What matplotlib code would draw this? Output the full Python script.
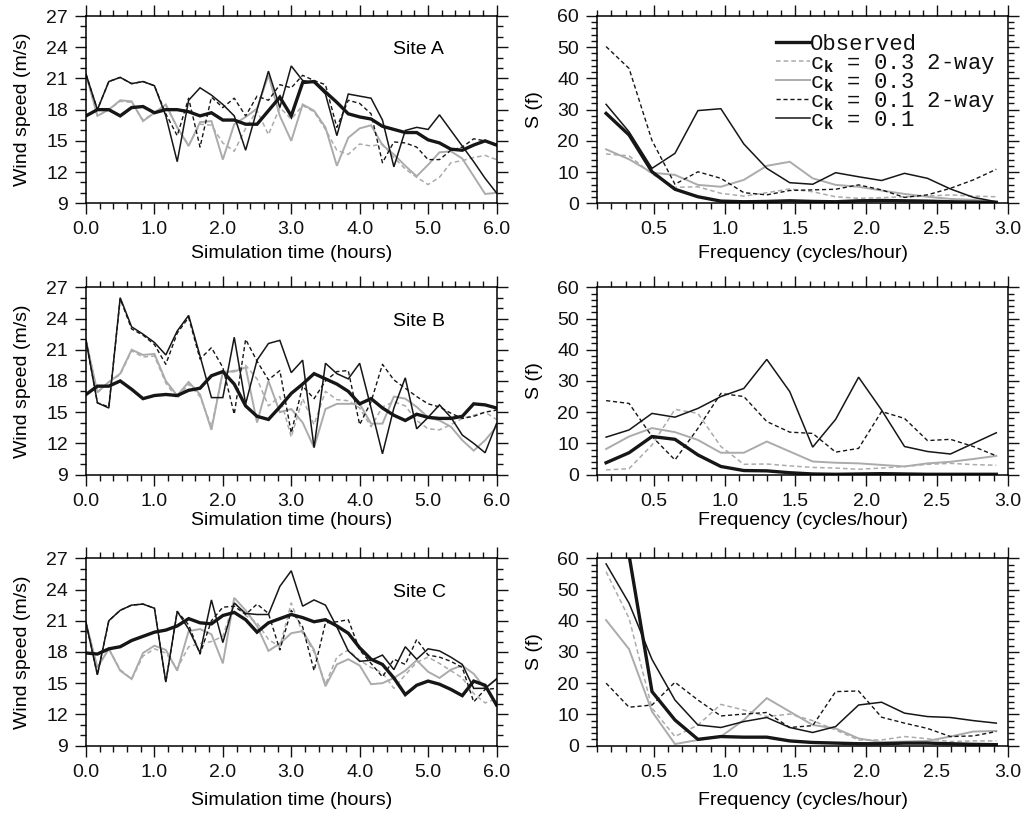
import numpy as np
import matplotlib
matplotlib.use('Agg')
import matplotlib.pyplot as plt
from matplotlib.ticker import MultipleLocator, FormatStrFormatter

plt.rcParams['font.family'] = ['Liberation Sans', 'DejaVu Sans']
plt.rcParams['mathtext.fontset'] = 'custom'
plt.rcParams['mathtext.rm'] = 'Liberation Mono'
plt.rcParams['mathtext.bf'] = 'Liberation Mono:bold'

# ---------------- data ----------------
hours = np.arange(37) / 6.0                 # 10-min samples over 6 h
freq = np.arange(1, 19) * 6.0 / 37.0        # spectral frequencies (cycles/hour)

site_names = ['Site A', 'Site B', 'Site C']
series_labels = ['Observed',
                 r'c$_\mathbf{k}$ = 0.3 2-way',
                 r'c$_\mathbf{k}$ = 0.3',
                 r'c$_\mathbf{k}$ = 0.1 2-way',
                 r'c$_\mathbf{k}$ = 0.1']

# Site A wind speed (m/s)
a_obs = [17.4, 18.0, 18.0, 17.4, 18.2, 18.3, 17.7, 18.0, 18.0, 17.8, 17.4, 17.7, 17.0,
         17.0, 16.6, 16.6, 17.9, 19.2, 17.4, 20.6, 20.7, 19.7, 18.7, 17.6, 17.3, 17.1,
         16.4, 16.1, 15.8, 15.8, 15.1, 14.8, 14.2, 14.1, 14.6, 15.0, 14.6]
a_c03w = [21.4, 17.4, 18.0, 18.8, 18.7, 17.0, 17.7, 18.4, 16.3, 14.6, 16.6, 16.5, 14.8,
          14.0, 16.2, 17.9, 15.6, 18.2, 17.1, 18.4, 17.8, 16.1, 14.1, 13.7, 14.7, 14.5,
          14.7, 13.4, 12.3, 11.5, 10.8, 11.5, 12.9, 13.1, 13.4, 13.6, 13.2]
a_c03 = [21.4, 17.4, 18.0, 18.9, 18.8, 16.9, 17.7, 18.5, 16.3, 14.5, 16.8, 16.9, 13.2,
         16.6, 17.3, 18.1, 21.3, 17.4, 15.0, 18.5, 17.9, 16.3, 12.6, 15.3, 16.2, 16.5,
         14.6, 13.7, 12.6, 11.6, 12.7, 13.9, 14.0, 13.3, 11.6, 9.9, 10.0]
a_c01w = [21.4, 18.0, 20.7, 21.1, 20.5, 20.7, 20.3, 17.6, 15.5, 19.1, 14.4, 19.2, 18.2,
          19.1, 17.4, 19.3, 18.9, 20.4, 20.1, 21.3, 20.8, 20.4, 16.3, 18.9, 18.6, 17.6,
          12.9, 14.9, 14.8, 14.4, 13.2, 13.2, 14.1, 14.4, 15.2, 15.0, 14.5]
a_c01 = [21.4, 18.0, 20.7, 21.1, 20.5, 20.7, 20.3, 17.4, 13.0, 18.9, 20.1, 19.4, 18.5,
         17.4, 14.1, 18.0, 21.7, 18.2, 22.2, 20.8, 20.6, 19.5, 15.5, 19.5, 19.3, 19.1,
         17.0, 12.5, 16.0, 16.3, 16.1, 17.5, 16.0, 14.5, 13.0, 11.4, 10.0]

# Site B wind speed (m/s)
b_obs = [16.7, 17.5, 17.5, 18.0, 17.2, 16.3, 16.6, 16.7, 16.6, 17.1, 17.3, 18.5, 18.9,
         17.7, 15.6, 14.6, 14.3, 15.5, 16.8, 17.7, 18.7, 18.2, 17.7, 17.0, 15.8, 16.3,
         15.4, 14.7, 14.2, 14.8, 14.5, 14.4, 14.4, 14.6, 15.8, 15.7, 15.4]
b_c03w = [21.9, 16.9, 17.9, 18.6, 20.9, 20.3, 20.4, 17.8, 16.3, 17.7, 16.5, 13.6, 18.8,
          19.0, 19.5, 18.2, 15.6, 16.5, 12.6, 16.3, 13.8, 17.0, 16.2, 16.1, 15.4, 13.6,
          15.5, 16.0, 15.6, 14.2, 13.4, 13.3, 13.8, 14.4, 14.7, 15.0, 14.3]
b_c03 = [21.9, 16.9, 17.9, 18.7, 21.0, 20.5, 20.6, 18.0, 16.6, 17.9, 16.7, 13.3, 18.9,
         18.9, 19.3, 14.0, 18.0, 15.0, 15.3, 14.0, 11.6, 15.3, 15.8, 15.8, 15.8, 13.9,
         13.9, 16.5, 16.3, 15.5, 14.5, 14.2, 13.6, 12.3, 11.3, 12.3, 13.6]
b_c01w = [21.9, 15.9, 15.5, 25.9, 23.0, 22.4, 21.5, 19.6, 22.6, 24.1, 20.1, 21.2, 19.3,
          14.8, 22.0, 19.9, 18.1, 19.0, 13.0, 17.5, 16.3, 18.0, 18.9, 19.0, 13.8, 16.0,
          19.6, 18.1, 17.3, 16.5, 15.8, 15.5, 14.9, 14.4, 14.6, 15.0, 15.2]
b_c01 = [21.9, 15.9, 15.4, 26.0, 23.2, 22.5, 21.7, 20.5, 22.8, 24.3, 20.4, 16.4, 16.4,
         22.2, 15.8, 20.0, 21.6, 21.9, 18.8, 20.0, 11.6, 19.7, 18.7, 18.2, 19.7, 15.4,
         11.0, 15.4, 18.3, 13.4, 14.5, 15.7, 14.5, 12.8, 12.0, 11.1, 13.9]

# Site C wind speed (m/s)
c_obs = [17.9, 17.8, 18.3, 18.5, 19.1, 19.5, 19.9, 20.1, 20.5, 21.2, 20.8, 20.7, 21.5,
         21.8, 21.1, 19.9, 20.8, 21.2, 21.6, 21.3, 20.9, 21.1, 20.5, 19.8, 18.4, 17.3,
         16.8, 15.5, 13.9, 14.8, 15.2, 14.9, 14.4, 13.8, 15.2, 14.8, 12.9]
c_c03w = [20.8, 16.5, 18.3, 16.3, 15.4, 17.6, 18.3, 17.9, 16.4, 18.5, 18.8, 19.0, 19.5,
          22.8, 21.5, 20.8, 19.2, 18.5, 22.7, 19.8, 18.0, 14.9, 17.5, 18.2, 17.2, 16.5,
          16.0, 14.5, 15.8, 17.0, 17.5, 16.9, 16.2, 15.5, 14.0, 13.1, 13.5]
c_c03 = [20.8, 16.5, 18.3, 16.2, 15.4, 17.9, 18.6, 18.2, 16.2, 20.0, 20.2, 19.7, 16.9,
         23.2, 22.0, 20.5, 18.1, 18.8, 19.8, 20.0, 18.2, 14.7, 16.8, 17.3, 16.7, 14.9,
         15.0, 15.5, 16.2, 17.2, 16.1, 15.5, 16.3, 16.7, 15.9, 14.5, 15.4]
c_c01w = [20.8, 15.8, 21.0, 22.0, 22.5, 22.6, 22.2, 15.1, 21.9, 20.6, 17.8, 21.0, 22.3,
          22.4, 21.6, 22.6, 21.7, 18.2, 22.0, 20.4, 16.2, 20.8, 20.9, 21.1, 18.2, 16.9,
          15.6, 17.3, 16.8, 19.2, 17.7, 17.5, 17.1, 16.5, 13.2, 14.4, 14.5]
c_c01 = [20.8, 15.8, 21.0, 22.0, 22.5, 22.6, 22.2, 15.1, 21.9, 20.2, 17.9, 23.0, 18.9,
         22.7, 21.7, 21.6, 21.6, 24.3, 25.8, 22.4, 23.0, 22.5, 20.4, 18.1, 17.1, 17.2,
         17.7, 16.3, 18.5, 17.3, 18.3, 18.1, 17.5, 16.8, 14.5, 14.5, 15.4]

# Spectra S(f)
sa_obs = [28.8, 21.9, 10.1, 4.5, 2.1, 0.7, 0.5, 0.6, 0.8, 0.6, 0.5, 0.8, 0.9, 0.8, 0.7, 0.5, 0.4, 0.3]
sa_c03w = [15.8, 15.2, 9.4, 5.1, 5.3, 3.2, 2.3, 3.4, 4.6, 3.7, 2.1, 1.6, 1.8, 2.1, 2.3, 2.7, 2.3, 2.1]
sa_c03 = [17.3, 14.1, 9.8, 9.1, 5.9, 5.3, 7.5, 12.0, 13.3, 8.0, 5.9, 5.3, 4.1, 3.0, 2.1, 1.4, 1.1, 0.5]
sa_c01w = [50.2, 43.2, 20.1, 6.1, 10.1, 8.0, 3.4, 2.7, 4.1, 4.3, 4.5, 5.9, 4.3, 1.9, 2.7, 4.8, 7.5, 10.9]
sa_c01 = [31.7, 22.9, 11.2, 16.0, 29.7, 30.3, 19.0, 11.2, 6.6, 6.1, 9.8, 8.5, 7.3, 9.6, 8.0, 4.6, 1.9, 0.5]

sb_obs = [3.8, 7.0, 12.2, 11.3, 6.3, 2.6, 1.3, 1.2, 0.6, 0.2, 0.1, 0.2, 0.3, 0.2, 0.1, 0.1, 0.1, 0.1]
sb_c03w = [1.5, 1.9, 9.5, 20.9, 19.6, 9.0, 3.3, 3.4, 2.8, 2.3, 2.1, 1.7, 2.1, 2.6, 3.3, 3.6, 3.2, 3.0]
sb_c03 = [8.2, 12.2, 14.9, 13.6, 11.1, 7.0, 7.0, 10.6, 7.4, 4.2, 3.8, 3.6, 3.1, 2.6, 3.6, 4.1, 5.0, 6.0]
sb_c01w = [23.7, 22.8, 12.2, 4.7, 14.8, 26.0, 25.0, 17.0, 13.6, 13.2, 7.2, 8.4, 20.2, 18.0, 10.9, 11.3, 9.0, 6.0]
sb_c01 = [12.0, 14.3, 19.6, 18.4, 21.2, 25.0, 27.6, 36.9, 26.6, 8.8, 17.7, 31.2, 20.7, 9.0, 7.4, 6.6, 10.0, 13.4]

sc_obs = [95.0, 61.0, 17.3, 8.2, 2.0, 2.9, 2.7, 2.7, 1.5, 1.0, 0.8, 0.6, 0.6, 0.8, 0.8, 0.6, 0.4, 0.3]
sc_c03w = [55.7, 40.8, 12.0, 2.9, 6.6, 13.2, 11.4, 9.3, 10.1, 8.0, 5.0, 1.8, 1.8, 2.9, 2.2, 1.3, 1.5, 1.5]
sc_c03 = [40.2, 30.9, 10.9, 0.5, 1.8, 2.9, 8.2, 15.2, 10.9, 6.6, 5.5, 2.3, 1.1, 1.3, 1.5, 2.9, 4.5, 4.7]
sc_c01w = [20.0, 12.3, 13.0, 20.3, 14.6, 9.5, 10.1, 10.6, 5.8, 6.4, 17.3, 17.5, 9.1, 7.2, 5.5, 2.9, 3.1, 4.5]
sc_c01 = [58.2, 45.6, 27.6, 14.6, 6.6, 5.8, 7.7, 9.0, 5.8, 4.2, 6.1, 13.0, 13.9, 10.4, 9.3, 9.0, 8.0, 7.2]

wind = [[a_obs, a_c03w, a_c03, a_c01w, a_c01],
        [b_obs, b_c03w, b_c03, b_c01w, b_c01],
        [c_obs, c_c03w, c_c03, c_c01w, c_c01]]
spec = [[sa_obs, sa_c03w, sa_c03, sa_c01w, sa_c01],
        [sb_obs, sb_c03w, sb_c03, sb_c01w, sb_c01],
        [sc_obs, sc_c03w, sc_c03, sc_c01w, sc_c01]]

# ---------------- styles ----------------
BLACK = '#161616'
GRAY = '#ababab'
styles = [dict(color=BLACK, lw=2.4, ls='-'),
          dict(color=GRAY, lw=1.1, ls=(0, (3, 2))),
          dict(color=GRAY, lw=1.4, ls='-'),
          dict(color=BLACK, lw=1.0, ls=(0, (3, 2))),
          dict(color=BLACK, lw=1.1, ls='-')]
draw_order = [1, 2, 3, 4, 0]

W, H = 1022, 813
fig = plt.figure(figsize=(W / 100, H / 100), dpi=100)

left_x, right_x, ax_w = 86 / W, 597.3 / W, 410.5 / W
ax_h = 187.3 / H
tops = [16.0, 287.3, 558.3]
xpads = [5, 2, 8]
LBL = 14


def style_axes(ax):
    for s in ax.spines.values():
        s.set_linewidth(1.1)
    ax.tick_params(which='both', direction='out', top=True, right=True,
                   width=1.0, labelsize=LBL, pad=5, colors='#111111')
    ax.tick_params(which='major', length=8)
    ax.tick_params(which='minor', length=4)


for r in range(3):
    bottom = 1 - (tops[r] + 187.3) / H
    # --- time series ---
    ax = fig.add_axes([left_x, bottom, ax_w, ax_h])
    for j in draw_order:
        ax.plot(hours, wind[r][j], **styles[j], solid_joinstyle='miter')
    ax.set_xlim(0, 6)
    ax.set_ylim(9, 27)
    ax.xaxis.set_major_locator(MultipleLocator(1.0))
    ax.xaxis.set_minor_locator(MultipleLocator(0.2))
    ax.xaxis.set_major_formatter(FormatStrFormatter('%.1f'))
    ax.yaxis.set_major_locator(MultipleLocator(3))
    ax.yaxis.set_minor_locator(MultipleLocator(1))
    style_axes(ax)
    ax.set_xlabel('Simulation time (hours)', fontsize=LBL, labelpad=xpads[r])
    ax.set_ylabel('Wind speed (m/s)', fontsize=LBL, labelpad=11)
    ax.text(0.747, 0.82, site_names[r], transform=ax.transAxes, fontsize=LBL,
            ha='left', va='center')

    # --- spectra ---
    ax2 = fig.add_axes([right_x, bottom, ax_w, ax_h])
    for j in draw_order:
        ax2.plot(freq, spec[r][j], **styles[j], solid_joinstyle='miter')
    ax2.set_xlim(0.1, 3.0)
    ax2.set_ylim(0, 60)
    ax2.xaxis.set_major_locator(MultipleLocator(0.5))
    ax2.xaxis.set_minor_locator(MultipleLocator(0.1))
    ax2.xaxis.set_major_formatter(FormatStrFormatter('%.1f'))
    ax2.yaxis.set_major_locator(MultipleLocator(10))
    ax2.yaxis.set_minor_locator(MultipleLocator(2))
    style_axes(ax2)
    ax2.set_xlabel('Frequency (cycles/hour)', fontsize=LBL, labelpad=xpads[r])
    ax2.set_ylabel('S (f)', fontsize=LBL, labelpad=10)

    if r == 0:
        y0, dy = 0.861, 19.0 / 187.3
        for j in range(5):
            yy = y0 - j * dy
            ax2.plot([0.436, 0.517], [yy, yy], transform=ax2.transAxes,
                     clip_on=False, **styles[j])
            ax2.text(0.519, yy - 0.045, series_labels[j], transform=ax2.transAxes,
                     fontsize=16, family='Liberation Mono', ha='left', va='baseline',
                     color='#111111')

fig.savefig('out.png', dpi=100)
